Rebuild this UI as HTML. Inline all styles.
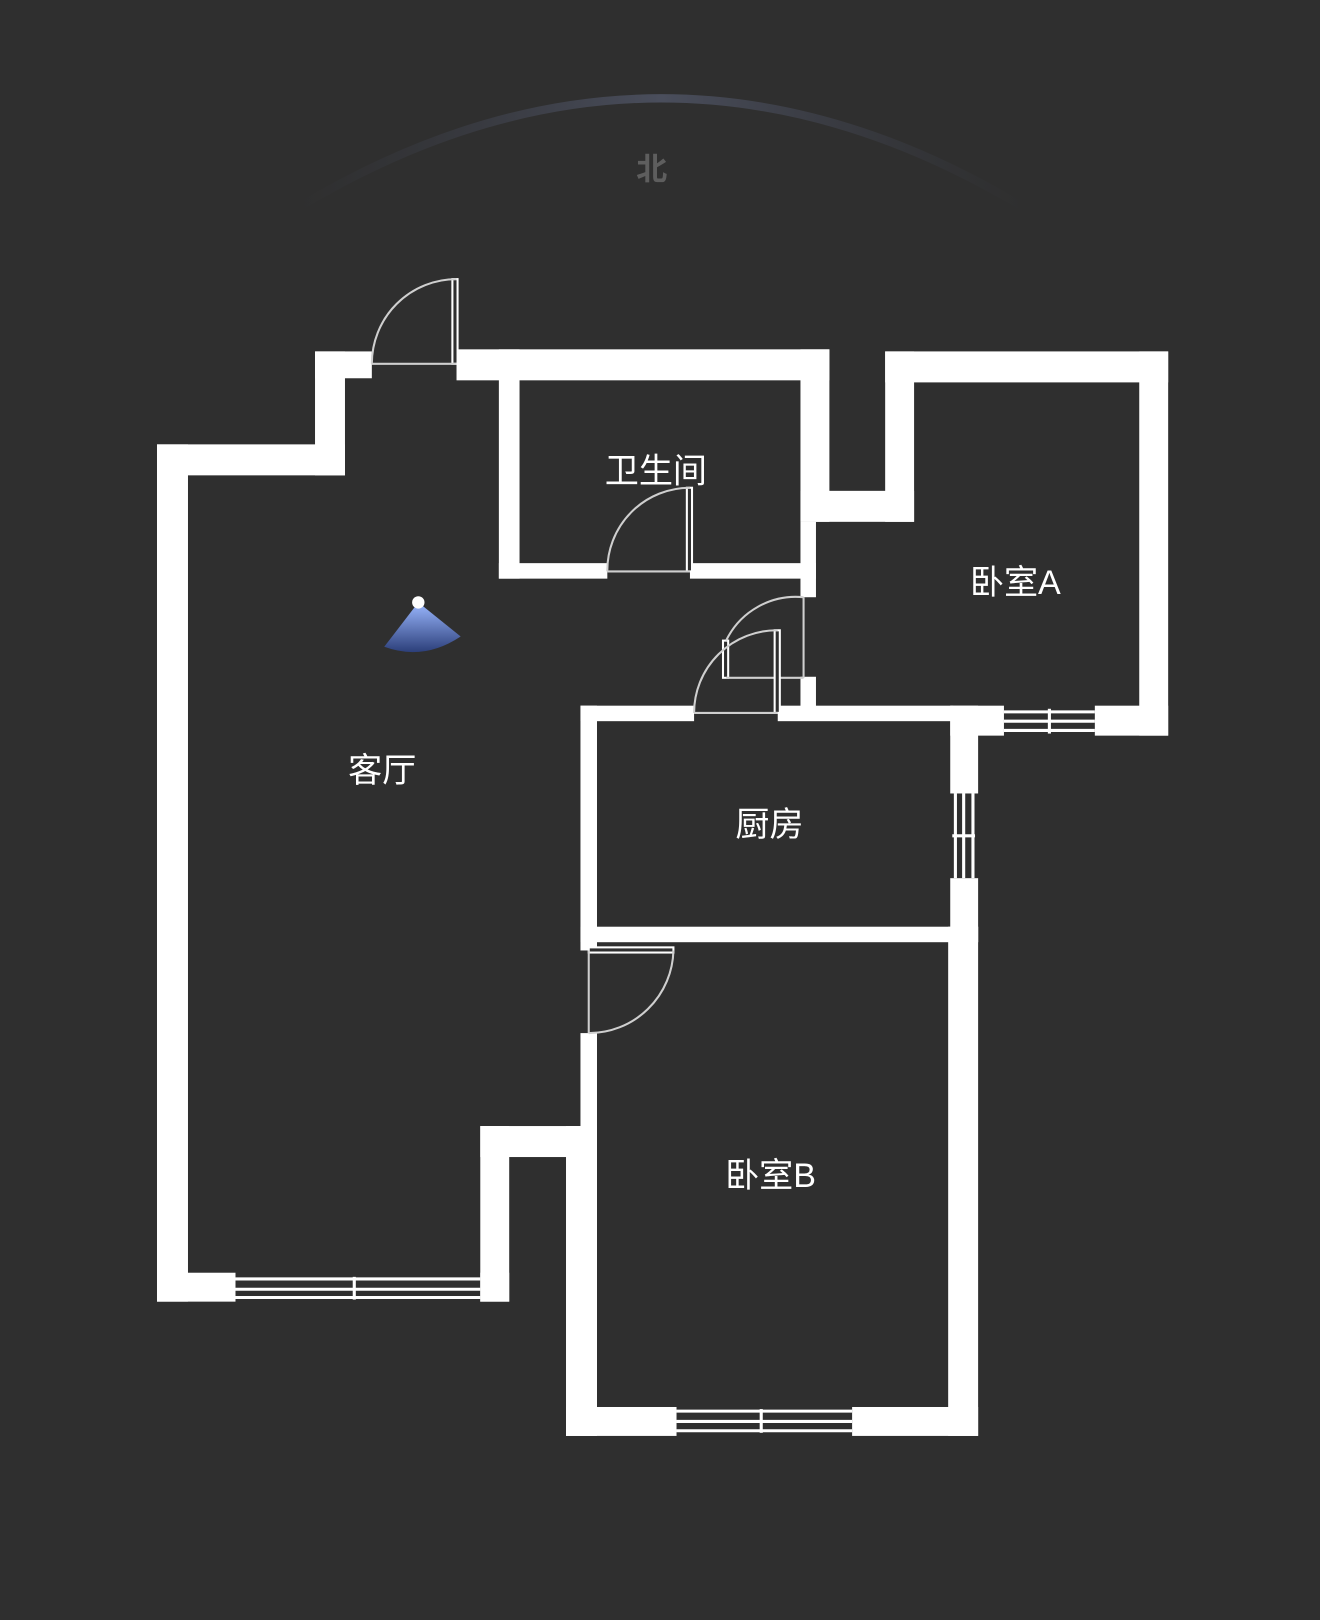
<!DOCTYPE html>
<html><head><meta charset="utf-8"><style>
html,body{margin:0;padding:0;background:#2f2f2f;}
svg{display:block}
text{font-family:"Liberation Sans","Noto Sans CJK SC",sans-serif;fill:#fff;text-anchor:middle}
</style></head><body>
<svg width="1320" height="1620" viewBox="0 0 1278 1568" xmlns="http://www.w3.org/2000/svg">
<defs>
<linearGradient id="g" x1="0" x2="1" y1="0" y2="0">
<stop offset="0" stop-color="#3a3d48" stop-opacity="0"/>
<stop offset="0.5" stop-color="#4a4e5c"/>
<stop offset="1" stop-color="#3a3d48" stop-opacity="0"/>
</linearGradient>
<linearGradient id="cam" x1="0" y1="0" x2="0" y2="1">
<stop offset="0" stop-color="#9bb8ff"/><stop offset="1" stop-color="#2c3f7a"/>
</linearGradient>
</defs>
<rect width="1278" height="1568" fill="#2f2f2f"/>
<path d="M290 200 Q640 -10 990 200" fill="none" stroke="url(#g)" stroke-width="8"/>
<text x="631" y="174" font-size="30" style="fill:#5e5e5e;font-weight:bold">北</text>
<g fill="#fff">
<rect x="152" y="430" width="30" height="830"/>
<rect x="152" y="430" width="182" height="30"/>
<rect x="305" y="340" width="29" height="120"/>
<rect x="305" y="340" width="55" height="26"/>
<rect x="442" y="338" width="361" height="30"/>
<rect x="152" y="1232" width="76" height="28"/>
<rect x="465" y="1232" width="28" height="28"/>
<rect x="465" y="1090" width="28" height="170"/>
<rect x="465" y="1090" width="113" height="30"/>
<rect x="483" y="338" width="20" height="222"/>
<rect x="483" y="545" width="105" height="15"/>
<rect x="668" y="545" width="122" height="15"/>
<rect x="775" y="338" width="28" height="167"/>
<rect x="775" y="475" width="110" height="30"/>
<rect x="857" y="340" width="274" height="30"/>
<rect x="857" y="340" width="28" height="165"/>
<rect x="1103" y="340" width="28" height="372"/>
<rect x="1060" y="683" width="71" height="29"/>
<rect x="920" y="683" width="52" height="29"/>
<rect x="775" y="505" width="15" height="73"/>
<rect x="775" y="655" width="15" height="40"/>
<rect x="562" y="683" width="110" height="15"/>
<rect x="753" y="683" width="170" height="15"/>
<rect x="920" y="683" width="27" height="85"/>
<rect x="920" y="850" width="27" height="62"/>
<rect x="562" y="683" width="16" height="237"/>
<rect x="562" y="897" width="385" height="15"/>
<rect x="562" y="1000" width="16" height="390"/>
<rect x="548" y="1090" width="30" height="300"/>
<rect x="918" y="897" width="29" height="493"/>
<rect x="548" y="1362" width="107" height="28"/>
<rect x="825" y="1362" width="122" height="28"/>
</g>
<g stroke="#fff" stroke-width="3" fill="none">
<line x1="228" y1="1238" x2="465" y2="1238"/><line x1="228" y1="1248" x2="465" y2="1248"/><line x1="228" y1="1256" x2="465" y2="1256"/><line x1="343" y1="1236" x2="343" y2="1258"/>
<line x1="655" y1="1366" x2="825" y2="1366"/><line x1="655" y1="1376" x2="825" y2="1376"/><line x1="655" y1="1385" x2="825" y2="1385"/><line x1="737" y1="1364" x2="737" y2="1387"/>
<line x1="972" y1="689" x2="1060" y2="689"/><line x1="972" y1="698" x2="1060" y2="698"/><line x1="972" y1="707" x2="1060" y2="707"/><line x1="1016" y1="686" x2="1016" y2="710"/>
<line x1="925" y1="768" x2="925" y2="850"/><line x1="933" y1="768" x2="933" y2="850"/><line x1="942" y1="768" x2="942" y2="850"/><line x1="922" y1="809" x2="944" y2="809"/>
</g>
<g stroke="#cfcfcf" stroke-width="2" fill="none">
<rect x="438" y="270" width="5" height="82" fill="#2f2f2f" stroke="#fff"/>
<path d="M442 270 A82 82 0 0 0 360 352"/><line x1="360" y1="352" x2="442" y2="352"/>
<rect x="665" y="472" width="5" height="81" fill="#2f2f2f" stroke="#fff"/>
<path d="M668 472 A80 80 0 0 0 588 553"/><line x1="588" y1="553" x2="668" y2="553"/>
<rect x="700" y="620" width="5" height="36" fill="#2f2f2f" stroke="#fff"/>
<line x1="703" y1="656" x2="778" y2="656"/>
<path d="M778 578 A75 75 0 0 0 703 620"/><line x1="778" y1="578" x2="778" y2="656"/>
<rect x="750" y="610" width="5" height="80" fill="#2f2f2f" stroke="#fff"/>
<path d="M753 610 A80 80 0 0 0 672 690"/><line x1="672" y1="690" x2="753" y2="690"/>
<rect x="570" y="917" width="82" height="5" fill="#2f2f2f" stroke="#fff"/>
<path d="M652 920 A82 82 0 0 1 570 1000"/><line x1="570" y1="920" x2="570" y2="1000"/>
</g>
<path d="M405 583 L372 626 Q410 640 446 616 Z" fill="url(#cam)"/>
<circle cx="405" cy="583" r="6" fill="#fff"/>
<g font-size="33">
<text x="635" y="467">卫生间</text>
<text x="983" y="575">卧室A</text>
<text x="370" y="757">客厅</text>
<text x="745" y="809">厨房</text>
<text x="746" y="1149">卧室B</text>
</g>
</svg>
</body></html>
